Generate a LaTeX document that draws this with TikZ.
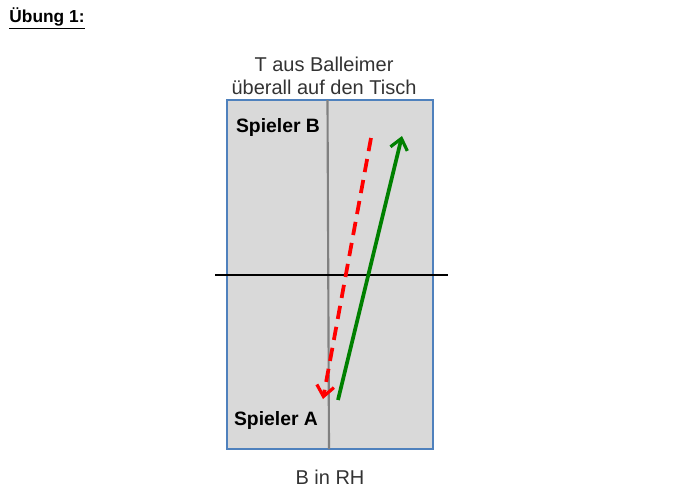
\documentclass[tikz,border=0pt]{standalone}
\usepackage{fontspec}
\setmainfont{Liberation Sans}
\usetikzlibrary{arrows.meta}

\definecolor{tablefill}{RGB}{217,217,217}
\definecolor{tableedge}{RGB}{79,129,189}
\definecolor{midgray}{RGB}{128,128,128}
\definecolor{balgreen}{RGB}{0,128,0}
\definecolor{balred}{RGB}{255,0,0}

\tikzset{every picture/.style={line width=0.75pt}}
\tikzset{
  playerlabel/.style={inner sep=0.75pt, font=\fontsize{14.5}{16}\selectfont\bfseries},
  caption/.style={inner sep=0.75pt, align=center, font=\fontsize{15}{17.5}\selectfont, text=black!80},
  ballpath/.style={line width=2.8pt, -{Straight Barb[length=8pt,width=13pt,line width=2.4pt]}}
}

\begin{document}
\begin{tikzpicture}[x=0.75pt,y=0.75pt,yscale=-1,xscale=1]
\useasboundingbox (0,0) rectangle (697,500);

%Shape: Rectangle [id:table]
\draw [color=tableedge, fill=tablefill, line width=1.6pt] (227,100) -- (433,100) -- (433,449) -- (227,449) -- cycle ;
%Straight Lines [id:midline]
\draw [color=midgray, line width=1.6pt] (327.5,100) -- (329,449) ;
%Straight Lines [id:net]
\draw [color=black, line width=1.6pt] (215,275) -- (448,275) ;

%Coordinates for the ball paths
\coordinate (greenStart) at (338,400);
\coordinate (greenEnd) at (402,136);
\coordinate (redStart) at (371,138);
\coordinate (redEnd) at (323,399);

%Straight Lines [id:serve]
\draw [ballpath, color=balgreen] (greenStart) -- (greenEnd) ;
%Straight Lines [id:return]
\draw [ballpath, color=balred, dash pattern=on 10pt off 6pt] (redStart) -- (redEnd) ;

% Text Node
\node (title) at (47,18) [inner sep=0.75pt, font=\fontsize{13}{15}\selectfont\bfseries] {\underline{Übung 1:}};
% Text Node
\node (task) at (324,76) [caption] {T aus Balleimer\\überall auf den Tisch};
% Text Node
\node (hand) at (330,477) [caption] {B in RH};
% Text Node
\node (playerB) at (278,127) [playerlabel] {Spieler B};
% Text Node
\node (playerA) at (276,420) [playerlabel] {Spieler A};
\end{tikzpicture}
\end{document}
